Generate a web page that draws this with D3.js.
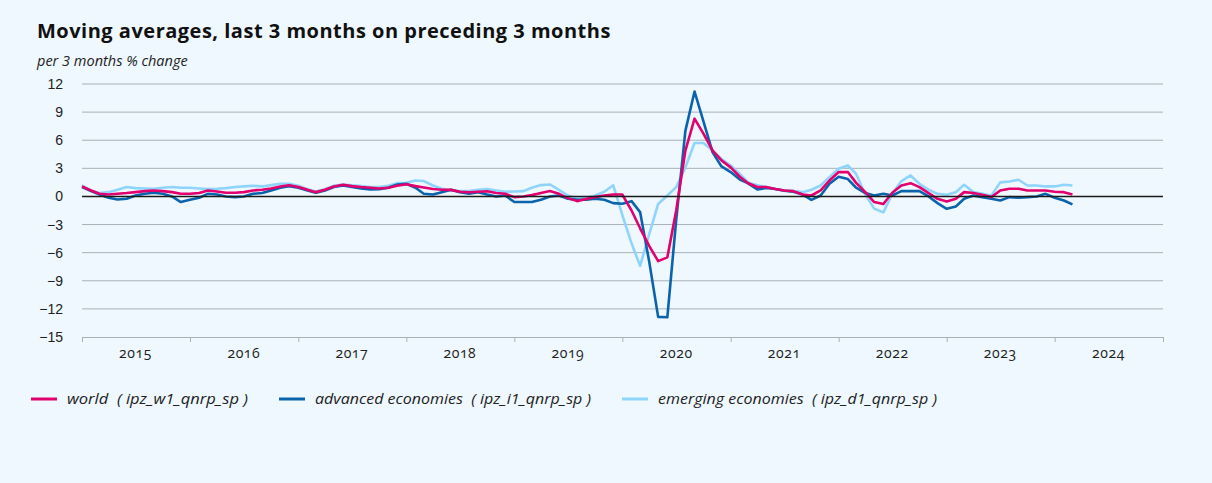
<!DOCTYPE html>
<html lang="en">
<head>
<meta charset="UTF-8">
<title>Moving averages, last 3 months on preceding 3 months</title>
<style>
    body {
        margin: 0;
        background: #eef8fe;
        font-family: "Open Sans", "Noto Sans", sans-serif;
    }
    svg { display: block; }
    .title { font-size: 20px; font-weight: 700; fill: #111; letter-spacing: 0.5px; }
    .subtitle { font-size: 14.5px; font-style: italic; fill: #222; }
    .tick text { font-size: 14px; fill: #222; font-variant-numeric: oldstyle-nums; }
    .legend text { font-size: 14px; font-style: italic; fill: #222; white-space: pre; }
</style>
</head>
<body>
<svg id="chart"></svg>
<script src="https://d3js.org/d3.v7.min.js"></script>
<script>
// monthly values, Jan 2015 .. Mar 2024 (one row per year)
const world = [
    1.07, 0.64, 0.28, 0.21, 0.28, 0.36, 0.46, 0.57, 0.64, 0.57, 0.46, 0.28,
    0.28, 0.36, 0.64, 0.53, 0.39, 0.39, 0.46, 0.64, 0.71, 0.85, 1.07, 1.2,
    1.0, 0.71, 0.46, 0.71, 1.07, 1.25, 1.1, 1.0, 0.93, 0.85, 0.93, 1.14,
    1.3, 1.1, 0.95, 0.8, 0.71, 0.7, 0.5, 0.45, 0.5, 0.55, 0.36, 0.28,
    -0.07, 0, 0.14, 0.36, 0.57, 0.28, -0.18, -0.5, -0.28, -0.07, 0.1, 0.2,
    0.2, -1.5, -3.4, -5.3, -6.9, -6.5, -1.5, 4.9, 8.3, 6.7, 4.9, 3.85,
    3.1, 2.1, 1.4, 1.0, 1.0, 0.8, 0.64, 0.57, 0.2, 0.1, 0.64, 1.7,
    2.6, 2.6, 1.45, 0.46, -0.6, -0.8, 0.4, 1.17, 1.42, 1.0, 0.36, -0.25,
    -0.53, -0.25, 0.46, 0.36, 0.18, -0.07, 0.64, 0.82, 0.82, 0.64, 0.64, 0.64,
    0.5, 0.46, 0.21
];
const advanced = [
    1.0, 0.57, 0.21, -0.14, -0.32, -0.25, 0.1, 0.28, 0.39, 0.28, 0, -0.6,
    -0.36, -0.14, 0.28, 0.21, 0, -0.07, 0, 0.28, 0.36, 0.64, 0.93, 1.1,
    0.93, 0.64, 0.39, 0.64, 1.0, 1.17, 1.0, 0.85, 0.75, 0.78, 0.93, 1.28,
    1.35, 0.93, 0.28, 0.21, 0.46, 0.71, 0.46, 0.28, 0.46, 0.21, 0, 0.1,
    -0.6, -0.6, -0.6, -0.36, 0, 0.1, -0.25, -0.36, -0.36, -0.25, -0.36, -0.71,
    -0.78, -0.5, -1.67, -7.0, -12.85, -12.9, -2.5, 7.0, 11.2, 8.0, 4.7, 3.2,
    2.6, 1.8, 1.4, 0.75, 0.9, 0.8, 0.6, 0.5, 0.2, -0.36, 0.1, 1.35,
    2.1, 1.85, 0.93, 0.36, 0.1, 0.28, 0.1, 0.57, 0.57, 0.57, 0, -0.71,
    -1.32, -1.07, -0.25, 0.1, -0.07, -0.25, -0.43, -0.07, -0.14, -0.07, 0, 0.28,
    -0.14, -0.43, -0.85
];
const emerging = [
    1.17, 0.57, 0.36, 0.46, 0.71, 1.0, 0.89, 0.85, 0.82, 0.93, 1.0, 0.93,
    0.93, 0.85, 0.78, 0.82, 0.89, 1.0, 1.07, 1.14, 1.07, 1.21, 1.35, 1.35,
    1.14, 0.78, 0.53, 0.78, 1.14, 1.28, 1.2, 1.1, 1.0, 1.0, 1.14, 1.42,
    1.45, 1.7, 1.64, 1.17, 0.82, 0.64, 0.57, 0.57, 0.71, 0.78, 0.64, 0.5,
    0.53, 0.57, 0.93, 1.21, 1.28, 0.71, 0.1, -0.25, -0.14, 0.1, 0.5, 1.2,
    -2.0, -5.0, -7.4, -4.0, -0.8, 0.1, 1.0, 3.1, 5.7, 5.7, 4.9, 4.0,
    3.3, 2.4, 1.5, 1.2, 1.0, 0.8, 0.64, 0.57, 0.46, 0.71, 1.17, 2.06,
    2.95, 3.3, 2.4, 0.2, -1.3, -1.7, 0.28, 1.64, 2.24, 1.35, 0.71, 0.28,
    0.18, 0.46, 1.25, 0.46, 0.28, 0.1, 1.5, 1.6, 1.78, 1.17, 1.17, 1.07,
    1.07, 1.25, 1.17
];
const years = [2015, 2016, 2017, 2018, 2019, 2020, 2021, 2022, 2023, 2024];
const yTicks = [12, 9, 6, 3, 0, -3, -6, -9, -12, -15];

const series = [
    { key: "emerging", label: "emerging economies  ( ipz_d1_qnrp_sp )", values: emerging, color: "#8fd4fd" },
    { key: "advanced", label: "advanced economies  ( ipz_i1_qnrp_sp )", values: advanced, color: "#0a64ad" },
    { key: "world", label: "world  ( ipz_w1_qnrp_sp )", values: world, color: "#e2006f" }
];

const width = 1212, height = 483;
const margin = { left: 82, right: 49, top: 84, bottom: 146 };

const svg = d3.select("#chart").attr("width", width).attr("height", height);

svg.append("text").attr("class", "title").attr("x", 37).attr("y", 38)
    .text("Moving averages, last 3 months on preceding 3 months");
svg.append("text").attr("class", "subtitle").attr("x", 37).attr("y", 66)
    .text("per 3 months % change");

const x = d3.scaleTime()
    .domain([new Date(2015, 0, 1), new Date(2025, 0, 1)])
    .range([margin.left, width - margin.right]);
const y = d3.scaleLinear()
    .domain([-15, 12])
    .range([height - margin.bottom, margin.top]);

const monthDate = i => new Date(2015, i, 1);

// horizontal grid
svg.append("g")
    .selectAll("line")
    .data(yTicks.filter(d => d !== 0 && d !== -15))
    .join("line")
    .attr("x1", x.range()[0]).attr("x2", x.range()[1])
    .attr("y1", d => y(d)).attr("y2", d => y(d))
    .attr("stroke", "#a9b0b8").attr("stroke-width", 1);

// y axis labels
const yAxis = svg.append("g")
    .attr("transform", `translate(${margin.left},0)`)
    .call(d3.axisLeft(y).tickValues(yTicks).tickSize(0).tickPadding(19).tickFormat(d3.format("d")));
yAxis.select(".domain").remove();

// x axis
const xAxis = svg.append("g")
    .attr("transform", `translate(0,${y(-15)})`)
    .call(d3.axisBottom(x)
        .tickValues(d3.range(2015, 2026).map(yr => new Date(yr, 0, 1)))
        .tickSize(5)
        .tickFormat(""));
xAxis.select(".domain").attr("stroke", "#a9b0b8");
xAxis.selectAll(".tick line").attr("stroke", "#a9b0b8");

svg.append("g")
    .attr("class", "tick")
    .selectAll("text")
    .data(years)
    .join("text")
    .attr("x", d => x(new Date(d, 6, 1)))
    .attr("y", y(-15) + 21)
    .attr("text-anchor", "middle")
    .attr("letter-spacing", "0.6px")
    .text(d => d);

// lines
const line = d3.line()
    .x((d, i) => x(monthDate(i)))
    .y(d => y(d));

svg.append("g")
    .selectAll("path")
    .data(series)
    .join("path")
    .attr("fill", "none")
    .attr("stroke", d => d.color)
    .attr("stroke-width", 2.6)
    .attr("stroke-linejoin", "round")
    .attr("d", d => line(d.values));

// zero line on top
svg.append("line")
    .attr("x1", x.range()[0]).attr("x2", x.range()[1])
    .attr("y1", y(0)).attr("y2", y(0))
    .attr("stroke", "#1a1a1a").attr("stroke-width", 1.6);

// legend
const legendItems = [
    { s: series[2], x: 31, w: 181 },
    { s: series[1], x: 279, w: 276 },
    { s: series[0], x: 622, w: 279 }
];
const legend = svg.append("g").attr("class", "legend")
    .selectAll("g")
    .data(legendItems)
    .join("g")
    .attr("transform", d => `translate(${d.x},399)`);
legend.append("line")
    .attr("x1", 0).attr("x2", 26)
    .attr("stroke", d => d.s.color).attr("stroke-width", 3);
legend.append("text")
    .attr("x", 36).attr("y", 5)
    .attr("textLength", d => d.w)
    .attr("lengthAdjust", "spacingAndGlyphs")
    .text(d => d.s.label);
</script>
</body>
</html>
